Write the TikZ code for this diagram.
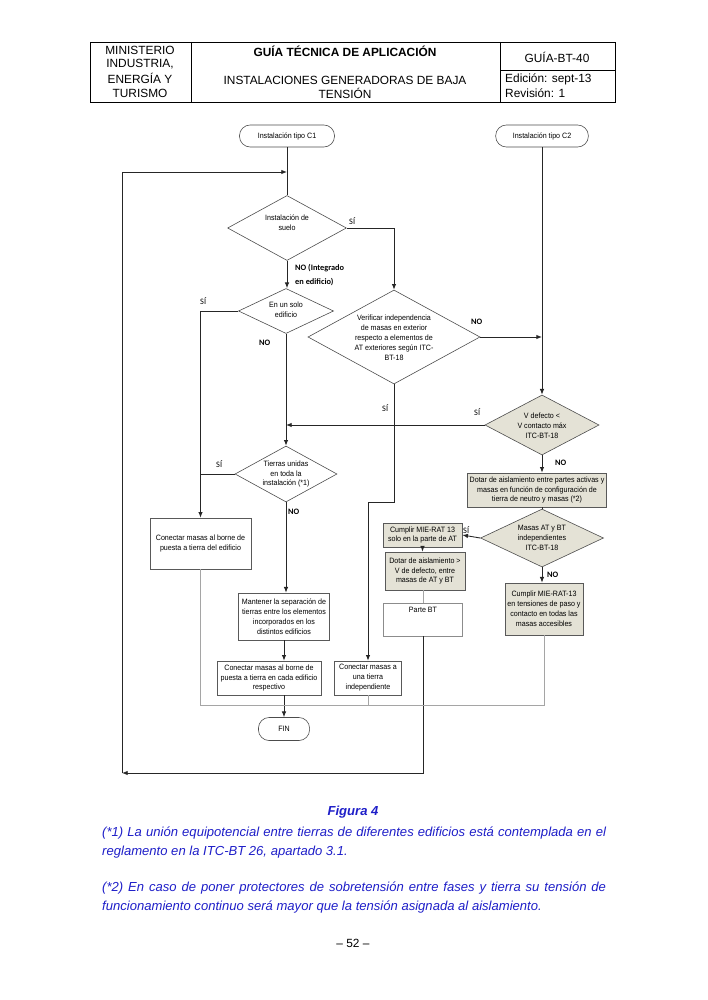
\documentclass[tikz,border=0pt]{standalone}
\usepackage{fontspec}
\setmainfont{Liberation Sans}
\newfontfamily\lab{Carlito}
\newfontfamily\fcf[FakeStretch=0.92]{Liberation Sans}
\usetikzlibrary{arrows.meta,shapes.geometric,calc}
\definecolor{beige}{RGB}{228,226,214}
\definecolor{capblue}{RGB}{30,30,200}
\definecolor{thin}{RGB}{165,165,165}
\begin{document}
\begin{tikzpicture}[x=0.8416pt,y=-0.8416pt,
  every node/.style={font=\fcf\fontsize{6.5}{8.4}\selectfont},
  term/.style={draw=black!70, line width=0.5pt, rounded corners=9pt, inner sep=0pt},
  dia/.style={diamond, draw=black!70, line width=0.5pt, inner sep=0pt},
  box/.style={rectangle, draw=black!65, line width=0.5pt, inner sep=0pt, align=center},
  sbox/.style={box, fill=beige},
  txt/.style={align=center, inner sep=0pt},
  conn/.style={draw=black!85, line width=0.75pt},
  arr/.style={conn, -{Latex[length=4.8pt,width=3.8pt]}},
  thinl/.style={draw=thin, line width=0.5pt},
  lbl/.style={font=\lab\fontsize{7}{8}\selectfont, inner sep=0pt, anchor=west},
  lblb/.style={lbl, font=\lab\bfseries\fontsize{7}{8.5}\selectfont},
  hdr/.style={font=\fontsize{10}{12}\selectfont, inner sep=0pt},
  capt/.style={font=\fontsize{11}{13}\selectfont\itshape, text=capblue, inner sep=0pt, anchor=base west}]
\useasboundingbox (0,0) rectangle (707,1000);
% ---------- header table ----------
\draw[line width=0.5pt] (90,42) rectangle (615,102);
\draw[line width=0.5pt] (191,42) -- (191,102) (500,42) -- (500,102) (500,70) -- (615,70);
\node[hdr] (h1) at (140,50) {MINISTERIO};
\node[hdr] (h2) at (140,64) {INDUSTRIA,};
\node[hdr] (h3) at (140,78.5) {ENERGÍA Y};
\node[hdr] (h4) at (140,93) {TURISMO};
\node[hdr, font=\fontsize{10}{12}\selectfont\bfseries] (h5) at (345,51) {GUÍA TÉCNICA DE APLICACIÓN};
\node[hdr] (h6) at (345,80) {INSTALACIONES GENERADORAS DE BAJA};
\node[hdr] (h7) at (345,93.5) {TENSIÓN};
\node[hdr] (h8) at (557,57) {GUÍA-BT-40};
\node[hdr, anchor=west] (h9) at (505,79) {Edición: sept-13};
\node[hdr, anchor=west] (h10) at (505,93) {Revisión: 1};
% ---------- flowchart nodes ----------
\node[term, minimum width=80pt, minimum height=18.5pt] (C1) at (287,136) {Instalación tipo C1};
\node[term, minimum width=78pt, minimum height=18.5pt] (C2) at (542,136) {Instalación tipo C2};
\node[dia, minimum width=100pt, minimum height=54.7pt] (D1) at (287,228) {};
\node[txt] (tD1) at (287,223) {Instalación de\\suelo};
\node[dia, minimum width=80pt, minimum height=37.9pt] (D2) at (286,311) {};
\node[txt] (tD2) at (286,310) {En un solo\\edificio};
\node[dia, minimum width=144.8pt, minimum height=79.1pt] (D3) at (394,337) {};
\node[txt] (tD3) at (394,338) {Verificar independencia\\de masas en exterior\\respecto a elementos de\\AT exteriores según ITC-\\BT-18};
\node[dia, fill=beige, minimum width=96pt, minimum height=50.5pt] (D4) at (542,425) {};
\node[txt] (tD4) at (542,426) {V defecto <\\V contacto máx\\ITC-BT-18};
\node[dia, minimum width=85.8pt, minimum height=47.1pt] (D5) at (286,474) {};
\node[txt] (tD5) at (286,474) {Tierras unidas\\en toda la\\instalación (*1)};
\node[sbox, minimum width=117pt, minimum height=28.6pt] (B1) at (537,490) {Dotar de aislamiento entre partes activas y\\masas en función de configuración de\\tierra de neutro y masas (*2)};
\node[dia, fill=beige, minimum width=103.5pt, minimum height=48.8pt] (D6) at (542,538) {};
\node[txt] (tD6) at (542,538) {Masas AT y BT\\independientes\\ITC-BT-18};
\node[sbox, minimum width=66.5pt, minimum height=20.2pt] (B2) at (422.5,535) {Cumplir MIE-RAT 13\\solo en la parte de AT};
\node[sbox, minimum width=67.3pt, minimum height=32pt] (B3) at (425,571) {Dotar de aislamiento >\\V de defecto, entre\\masas de AT y BT};
\node[box, draw=black!45, minimum width=66.5pt, minimum height=27.8pt] (B4) at (423,619.5) {};
\node[txt, anchor=north] (tB4) at ($(B4.north)+(0,4)$) {Parte BT};
\node[sbox, minimum width=65.6pt, minimum height=43.8pt] (B5) at (544,609) {Cumplir MIE-RAT-13\\en tensiones de paso y\\contacto en todas las\\masas accesibles};
\node[box, minimum width=85pt, minimum height=42.9pt] (B6) at (200.5,543.5) {Conectar masas al borne de\\puesta a tierra del edificio};
\node[box, minimum width=76.6pt, minimum height=39.6pt] (B7) at (284,616.5) {Mantener la separación de\\tierras entre los elementos\\incorporados en los\\distintos edificios};
\node[box, minimum width=87.5pt, minimum height=28.6pt] (B8) at (269,678) {Conectar masas al borne de\\puesta a tierra en cada edificio\\respectivo};
\node[box, minimum width=56.4pt, minimum height=28.6pt] (B9) at (368,678) {Conectar masas a\\una tierra\\independiente};
\node[term, minimum width=43pt, minimum height=19.4pt] (FIN) at (284,729) {FIN};
% ---------- connectors ----------
\coordinate (lb) at (122,773);
\coordinate (lt) at (122,172);
\coordinate (j1) at (0,502);
\coordinate (g) at (0,705);
\draw[conn] (C1.south) -- (D1.north);
\draw[arr] (D1.east) -| (D3.north);
\draw[arr] (D1.south) -- (D1.south |- D2.north);
\draw[arr] (D2.west) -| (B6.north);
\draw[conn] (D5.west) -- (D5.west -| B6.north);
\draw[arr] (D2.south) -- (D5.north);
\draw[arr] (D4.west) -- (D2.south |- D4.west);
\draw[arr] (D3.east) -- (C2.south |- D3.east);
\draw[arr] (C2.south) -- (D4.north);
\draw[arr] (D3.south) -- (D3.south |- j1) -| (B9.north);
\draw[arr] (D4.south) -- (D4.south |- B1.north);
\draw[conn] (B1.south -| D6.north) -- (D6.north);
\draw[arr] (D6.west) -- (B2.east);
\draw[arr] (D6.south) -- (D6.south |- B5.north);
\draw[arr] (B2.south) -- (B2.south |- B3.north);
\draw[thinl] (B4.north |- B3.south) -- (B4.north);
\draw[arr] (B4.south) |- (lb);
\draw[arr] (lb) -- (lt) -- (lt -| C1.south);
\draw[arr] (D5.south) -- (D5.south |- B7.north);
\draw[arr] (B7.south) -- (B7.south |- B8.north);
\draw[arr] (B7.south |- B8.south) -- (FIN.north);
\draw[thinl] (B6.south) |- (B5.south |- g) -- (B5.south);
\draw[thinl] (B9.south) -- (B9.south |- g);
% ---------- labels ----------
\node[lbl] (l1) at (349,221) {SÍ};
\node[lblb] (l2) at (295,268) {NO (Integrado};
\node[lblb] (l3) at (295,282) {en edificio)};
\node[lbl] (l4) at (200,301) {SÍ};
\node[lblb] (l5) at (259,343) {NO};
\node[lbl] (l6) at (382,408) {SÍ};
\node[lblb] (l7) at (471,322) {NO};
\node[lbl] (l8) at (474,412) {SÍ};
\node[lblb] (l9) at (555,463) {NO};
\node[lbl] (l10) at (216,464) {SÍ};
\node[lblb] (l11) at (288,512) {NO};
\node[lbl] (l12) at (463,530) {SÍ};
\node[lblb] (l13) at (547,575) {NO};
% ---------- caption ----------
\node[capt, anchor=base, font=\fontsize{11}{13}\selectfont\itshape\bfseries] (fig) at (353,815) {Figura 4};
\node[capt] (p1a) at (102,836) {\makebox[424pt][s]{(*1) La unión equipotencial entre tierras de diferentes edificios está contemplada en el}};
\node[capt] (p1b) at (102,855) {reglamento en la ITC-BT 26, apartado 3.1.};
\node[capt] (p2a) at (102,891) {\makebox[424pt][s]{(*2) En caso de poner protectores de sobretensión entre fases y tierra su tensión de}};
\node[capt] (p2b) at (102,910) {funcionamiento continuo será mayor que la tensión asignada al aislamiento.};
\node[hdr, anchor=base] (pg) at (353,947) {– 52 –};
\end{tikzpicture}
\end{document}
